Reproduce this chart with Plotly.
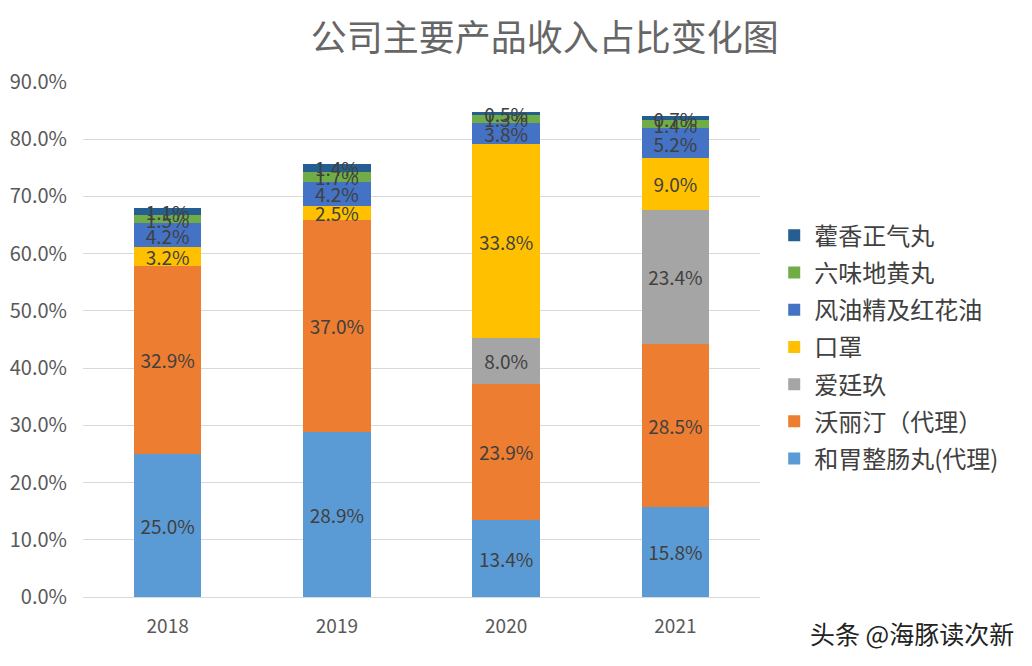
import plotly.graph_objects as go

years = ["2018", "2019", "2020", "2021"]
series_names = ["和胃整肠丸(代理)", "沃丽汀（代理）", "爱廷玖", "口罩", "风油精及红花油", "六味地黄丸", "藿香正气丸"]
hewei = [25.0, 28.9, 13.4, 15.8]
woliting = [32.9, 37.0, 23.9, 28.5]
aitingjiu = [None, None, 8.0, 23.4]
kouzhao = [3.2, 2.5, 33.8, 9.0]
fengyoujing = [4.2, 4.2, 3.8, 5.2]
liuwei = [1.5, 1.7, 1.3, 1.4]
huoxiang = [1.1, 1.4, 0.5, 0.7]
colors = ["#5B9BD5", "#ED7D31", "#A5A5A5", "#FFC000", "#4472C4", "#70AD47", "#255E91"]

values = [hewei, woliting, aitingjiu, kouzhao, fengyoujing, liuwei, huoxiang]

font_family = "Noto Sans CJK SC, Noto Sans, sans-serif"
fig = go.Figure()
for i, (name, vals, c) in enumerate(zip(series_names, values, colors)):
    y = [v / 100 if v is not None else None for v in vals]
    txt = [f"{v:.1f}%" if v is not None else "" for v in vals]
    fig.add_trace(go.Bar(
        x=years, y=y, name=name, legendgroup=f"g{i}", legendrank=100 - i,
        marker=dict(color=c, line=dict(width=0)),
        text=txt, textposition="inside", insidetextanchor="middle",
        textfont=dict(size=19, color="#404040", family=font_family),
        constraintext="none", cliponaxis=False,
    ))

fig.update_layout(
    barmode="stack",
    bargap=0.6,
    width=1032, height=666,
    margin=dict(l=75, r=280, t=74, b=77, autoexpand=False),
    paper_bgcolor="white", plot_bgcolor="white",
    font=dict(family=font_family, color="#595959"),
    uniformtext=dict(mode="show", minsize=19),
    title=dict(text="公司主要产品收入占比变化图", x=0.520, xanchor="center", y=0.955, yanchor="middle",
               font=dict(size=36, color="#666666", family=font_family)),
    legend=dict(traceorder="grouped", x=1.021, xanchor="left", y=0.485, yanchor="middle",
                font=dict(size=24, color="#404040", family=font_family),
                itemwidth=30, tracegroupgap=3, bgcolor="rgba(0,0,0,0)"),
    showlegend=True,
)
fig.update_yaxes(range=[0, 0.9], dtick=0.1, tickformat=".1%", showgrid=True, gridcolor="#D9D9D9",
                 gridwidth=1, zeroline=False, showline=False, ticks="", automargin=False,
                 tickfont=dict(size=20, color="#595959"), ticklabelstandoff=15)
fig.update_xaxes(showline=True, linecolor="#D9D9D9", linewidth=1, ticks="", automargin=False,
                 tickfont=dict(size=19, color="#595959"), ticklabelstandoff=12)

fig.add_annotation(text="头条 @海豚读次新", xref="paper", yref="paper", x=(1008 - 75) / 677, y=-0.07,
                   xanchor="right", yanchor="middle", showarrow=False,
                   font=dict(size=25, color="#222222", family=font_family))

fig.write_html("out.html")
